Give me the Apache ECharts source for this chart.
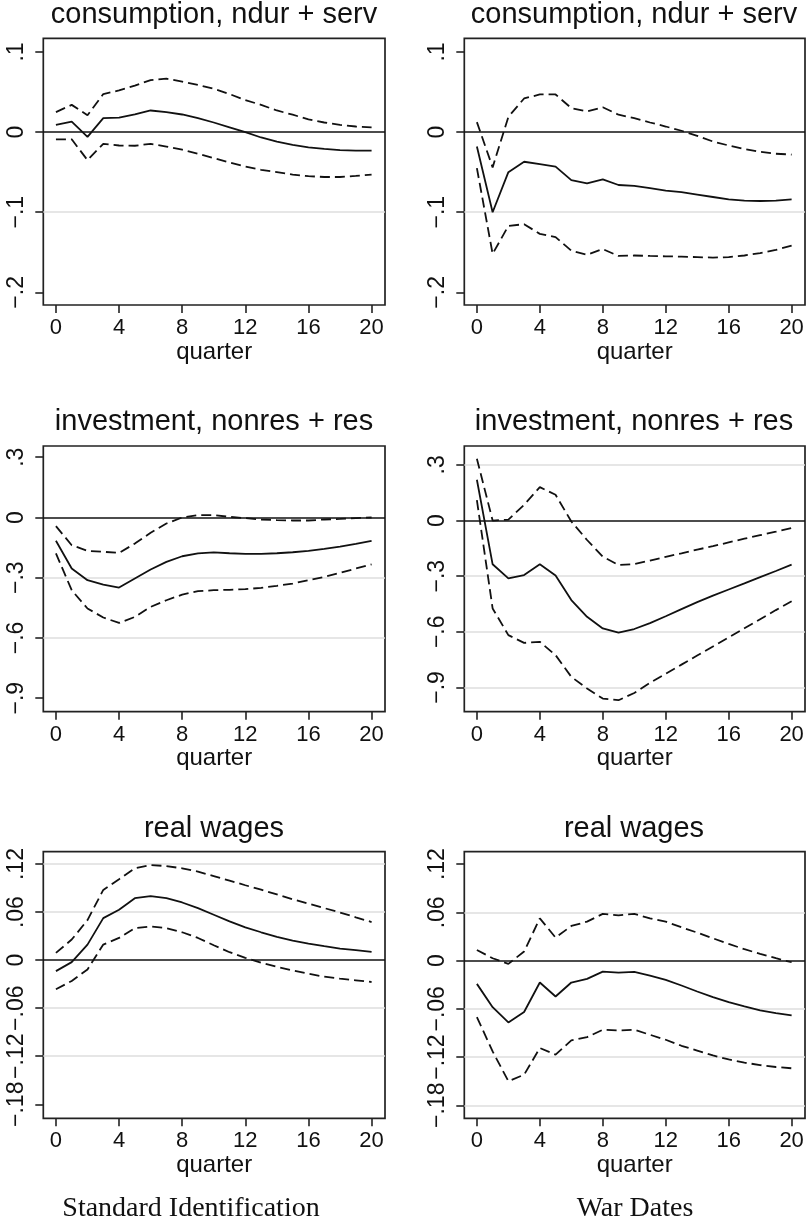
<!DOCTYPE html>
<html><head><meta charset="utf-8">
<script src="https://cdn.jsdelivr.net/npm/echarts@6/dist/echarts.min.js"></script>
<style>html,body{margin:0;padding:0;background:#fff}#c{width:810px;height:1224px}</style>
</head><body><div id="c"></div>
<script>
// ---------- data ----------
const quarters = [0,1,2,3,4,5,6,7,8,9,10,11,12,13,14,15,16,17,18,19,20];
const xTicks = [0,4,8,12,16,20];

// consumption, ndur + serv — Standard Identification
const consStdMid = [0.009,0.013,-0.006,0.0175,0.018,0.022,0.027,0.025,0.022,0.0175,0.012,0.006,0.0,-0.0067,-0.012,-0.016,-0.019,-0.021,-0.0225,-0.023,-0.023];
const consStdUp  = [0.025,0.034,0.021,0.0475,0.052,0.058,0.065,0.0667,0.063,0.059,0.054,0.0475,0.040,0.034,0.027,0.0217,0.016,0.012,0.009,0.007,0.006];
const consStdLo  = [-0.009,-0.009,-0.035,-0.0146,-0.0167,-0.017,-0.0146,-0.018,-0.022,-0.027,-0.0325,-0.038,-0.043,-0.047,-0.050,-0.053,-0.055,-0.056,-0.056,-0.0546,-0.053];
// consumption, ndur + serv — War Dates
const consWarMid = [-0.018,-0.1,-0.05,-0.037,-0.04,-0.043,-0.06,-0.064,-0.059,-0.066,-0.067,-0.070,-0.073,-0.075,-0.078,-0.081,-0.084,-0.0855,-0.086,-0.0855,-0.084];
const consWarUp  = [0.0125,-0.044,0.019,0.042,0.047,0.047,0.03,0.026,0.031,0.0217,0.0175,0.012,0.007,0.0017,-0.0046,-0.0117,-0.0167,-0.021,-0.0246,-0.027,-0.028];
const consWarLo  = [-0.045,-0.152,-0.117,-0.115,-0.127,-0.131,-0.148,-0.153,-0.146,-0.1546,-0.154,-0.1546,-0.155,-0.1555,-0.156,-0.1567,-0.156,-0.154,-0.151,-0.147,-0.1417];
// investment, nonres + res — Standard Identification
const invStdMid = [-0.116,-0.254,-0.312,-0.334,-0.349,-0.304,-0.259,-0.221,-0.193,-0.179,-0.174,-0.178,-0.181,-0.181,-0.178,-0.173,-0.166,-0.156,-0.145,-0.131,-0.116];
const invStdUp  = [-0.043,-0.138,-0.166,-0.171,-0.176,-0.130,-0.076,-0.03,0.0,0.012,0.012,0.003,-0.003,-0.01,-0.013,-0.015,-0.015,-0.01,-0.007,-0.003,0.0];
const invStdLo  = [-0.179,-0.362,-0.453,-0.498,-0.525,-0.495,-0.445,-0.412,-0.384,-0.367,-0.362,-0.360,-0.357,-0.350,-0.340,-0.329,-0.312,-0.296,-0.276,-0.254,-0.233];
// investment, nonres + res — War Dates
const invWarMid = [0.22,-0.236,-0.312,-0.294,-0.236,-0.297,-0.429,-0.519,-0.582,-0.604,-0.585,-0.553,-0.516,-0.478,-0.44,-0.405,-0.372,-0.339,-0.305,-0.272,-0.238];
const invWarUp  = [0.333,0.0,0.005,0.085,0.18,0.139,-0.005,-0.105,-0.195,-0.24,-0.235,-0.216,-0.196,-0.177,-0.157,-0.138,-0.118,-0.098,-0.079,-0.06,-0.04];
const invWarLo  = [0.11,-0.474,-0.618,-0.66,-0.654,-0.726,-0.843,-0.906,-0.96,-0.969,-0.93,-0.875,-0.826,-0.777,-0.728,-0.679,-0.63,-0.581,-0.532,-0.483,-0.435];
// real wages — Standard Identification
const wageStdMid = [-0.0137,-0.0025,0.0194,0.0525,0.063,0.0774,0.080,0.0774,0.072,0.065,0.0567,0.0484,0.041,0.0348,0.029,0.0244,0.0207,0.0174,0.0145,0.0124,0.0103];
const wageStdUp  = [0.009,0.0257,0.050,0.0877,0.101,0.1146,0.1187,0.1175,0.1146,0.1105,0.105,0.0993,0.0935,0.088,0.082,0.076,0.0705,0.065,0.0595,0.0535,0.0476];
const wageStdLo  = [-0.0364,-0.026,-0.0116,0.0194,0.0277,0.040,0.042,0.040,0.0348,0.0277,0.0186,0.0099,0.0029,-0.0033,-0.0083,-0.0128,-0.017,-0.0207,-0.0232,-0.0252,-0.0273];
// real wages — War Dates
const wageWarMid = [-0.029,-0.058,-0.077,-0.064,-0.0273,-0.0447,-0.0273,-0.0228,-0.0137,-0.0149,-0.014,-0.0186,-0.024,-0.031,-0.0385,-0.0455,-0.0517,-0.0571,-0.062,-0.0654,-0.0683];
const wageWarUp  = [0.0132,0.0029,-0.0041,0.0112,0.0525,0.0285,0.043,0.0484,0.058,0.0563,0.058,0.0525,0.0484,0.0414,0.0348,0.0277,0.0207,0.0141,0.0083,0.0029,-0.0021];
const wageWarLo  = [-0.0703,-0.113,-0.150,-0.142,-0.1088,-0.117,-0.0993,-0.0952,-0.086,-0.0869,-0.086,-0.0923,-0.0985,-0.106,-0.112,-0.118,-0.123,-0.127,-0.130,-0.1324,-0.134];

// tick values and labels
const yTicksCons = [-0.2,-0.1,0,0.1];
const yLabelsCons = ['\u2212.2','\u2212.1','0','.1'];
const yTicksInv = [-0.9,-0.6,-0.3,0,0.3];
const yLabelsInv = ['\u2212.9','\u2212.6','\u2212.3','0','.3'];
const yTicksWage = [-0.18,-0.12,-0.06,0,0.06,0.12];
const yLabelsWage = ['\u2212.18','\u2212.12','\u2212.06','0','.06','.12'];

// light grid lines shown in each panel
const gridConsStd = [-0.1];
const gridConsWar = [-0.1];
const gridInvStd = [-0.3,-0.6];
const gridInvWar = [0.3,-0.3,-0.6,-0.9];
const gridWageStd = [0.12,0.06,-0.06,-0.12];
const gridWageWar = [0.06,-0.06,-0.12,-0.18];

const titles = ['consumption, ndur + serv','consumption, ndur + serv','investment, nonres + res','investment, nonres + res','real wages','real wages'];
const columnCaptions = ['Standard Identification','War Dates'];
const xName = 'quarter';

// ---------- layout ----------
const SANS = '"Liberation Sans", Arial, Helvetica, sans-serif';
const SERIF = '"Liberation Serif", "Times New Roman", serif';
const INK = '#111';
const colLeft = [43.3, 464.3], colWidth = [341.7, 340.7];
const rowTop = [38.3, 446, 851.7], rowHeight = [266.7, 265.7, 266.6];
const titleY = [15, 422, 829];
const titleX = [214, 634];
const panels = [
  {mid: consStdMid, up: consStdUp, lo: consStdLo, ticks: yTicksCons, labels: yLabelsCons, grid: gridConsStd, min: -0.2158, max: 0.1171},
  {mid: consWarMid, up: consWarUp, lo: consWarLo, ticks: yTicksCons, labels: yLabelsCons, grid: gridConsWar, min: -0.2158, max: 0.1171},
  {mid: invStdMid, up: invStdUp, lo: invStdLo, ticks: yTicksInv, labels: yLabelsInv, grid: gridInvStd, min: -0.967, max: 0.356},
  {mid: invWarMid, up: invWarUp, lo: invWarLo, ticks: yTicksInv, labels: yLabelsInv, grid: gridInvWar, min: -1.031, max: 0.402},
  {mid: wageStdMid, up: wageStdUp, lo: wageStdLo, ticks: yTicksWage, labels: yLabelsWage, grid: gridWageStd, min: -0.1975, max: 0.1354},
  {mid: wageWarMid, up: wageWarUp, lo: wageWarLo, ticks: yTicksWage, labels: yLabelsWage, grid: gridWageWar, min: -0.1962, max: 0.1354}
];

const grids = [], xAxes = [], yAxes = [], series = [], titleComps = [];
panels.forEach((p, i) => {
  const col = i % 2, row = Math.floor(i / 2);
  grids.push({left: colLeft[col], top: rowTop[row], width: colWidth[col], height: rowHeight[row],
    show: true, borderColor: '#222', borderWidth: 1.7, backgroundColor: 'transparent', containLabel: false});
  xAxes.push({type: 'value', gridIndex: i, min: -0.8, max: 20.85, position: 'bottom',
    splitLine: {show: false}, axisLine: {show: false, onZero: false},
    axisTick: {show: true, length: 8, customValues: xTicks, lineStyle: {color: '#222', width: 1.6}},
    axisLabel: {customValues: xTicks, margin: 12, fontSize: 22, color: INK, fontFamily: SANS},
    name: xName, nameLocation: 'middle', nameGap: 34,
    nameTextStyle: {fontSize: 24, color: INK, fontFamily: SANS}});
  yAxes.push({type: 'value', gridIndex: i, min: p.min, max: p.max, position: 'left',
    splitLine: {show: false}, axisLine: {show: false, onZero: false},
    axisTick: {show: true, length: 8, customValues: p.ticks, lineStyle: {color: '#222', width: 1.6}},
    axisLabel: {customValues: p.ticks, rotate: 90, margin: 15, fontSize: 23, color: INK, fontFamily: SANS,
      formatter: v => { const k = p.ticks.findIndex(t => Math.abs(t - v) < 1e-9); return k >= 0 ? p.labels[k] : ''; }}});
  const mk = {silent: true, symbol: 'none', z: 1, animation: false, label: {show: false},
    data: p.grid.map(v => ({yAxis: v, lineStyle: {color: '#dedede', width: 1.7, type: 'solid'}}))
      .concat([{yAxis: 0, lineStyle: {color: INK, width: 1.7, type: 'solid'}}])};
  [[p.mid, 'solid'], [p.up, [10, 5]], [p.lo, [10, 5]]].forEach(([vals, dash], k) => {
    const s = {type: 'line', xAxisIndex: i, yAxisIndex: i, data: quarters.map((q, j) => [q, vals[j]]),
      showSymbol: false, symbol: 'none', silent: true, z: 3, clip: false,
      lineStyle: {color: INK, width: 1.8, type: dash}};
    if (k === 0) s.markLine = mk;
    series.push(s);
  });
  titleComps.push({text: titles[i], left: titleX[col], top: titleY[row], textAlign: 'center', textVerticalAlign: 'middle',
    padding: 0, textStyle: {fontSize: 29, fontWeight: 'normal', color: INK, fontFamily: SANS}});
});
titleComps.push({text: columnCaptions[0], left: 191, top: 1209, textAlign: 'center', textVerticalAlign: 'middle', padding: 0,
  textStyle: {fontSize: 28, fontWeight: 'normal', color: INK, fontFamily: SERIF}});
titleComps.push({text: columnCaptions[1], left: 635, top: 1209, textAlign: 'center', textVerticalAlign: 'middle', padding: 0,
  textStyle: {fontSize: 28, fontWeight: 'normal', color: INK, fontFamily: SERIF}});

const chart = echarts.init(document.getElementById('c'), null, {renderer: 'canvas'});
chart.setOption({animation: false, backgroundColor: '#fff', title: titleComps, grid: grids, xAxis: xAxes, yAxis: yAxes, series: series});
</script></body></html>
